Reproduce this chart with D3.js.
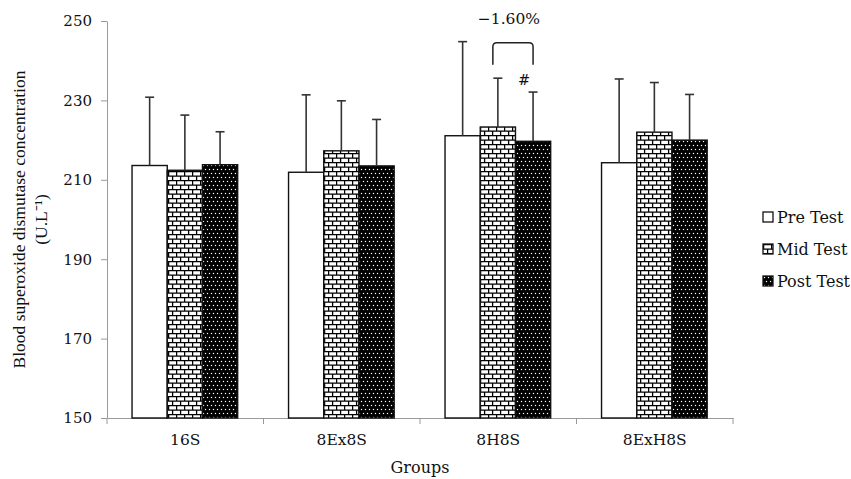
<!DOCTYPE html>
<html>
<head>
<meta charset="utf-8">
<script src="https://cdn.jsdelivr.net/npm/d3@7"></script>
<style>
  body { margin: 0; background: #fff; }
</style>
</head>
<body>
<div id="chart"></div>
<script>
// data
var groups = ["16S", "8Ex8S", "8H8S", "8ExH8S"];
var series = ["Pre Test", "Mid Test", "Post Test"];
var preTest  = [213.6, 211.9, 221.1, 214.3];
var midTest  = [212.4, 217.3, 223.3, 222.0];
var postTest = [213.8, 213.5, 219.7, 220.0];
var preSD  = [17.2, 19.5, 23.7, 21.1];
var midSD  = [13.9, 12.6, 12.3, 12.5];
var postSD = [8.3, 11.7, 12.4, 11.5];
var yTicks = [150, 170, 190, 210, 230, 250];

var W = 851, H = 479;
var margin = {top: 21, right: 118, bottom: 61, left: 107};

var svg = d3.select("#chart")
  .append("svg")
    .attr("width", W)
    .attr("height", H);

// fill patterns
var defs = svg.append("defs");
var brick = defs.append("pattern")
    .attr("id", "brick")
    .attr("patternUnits", "userSpaceOnUse")
    .attr("width", 8)
    .attr("height", 9);
brick.append("rect").attr("width", 8).attr("height", 9).attr("fill", "#fff");
brick.append("path")
    .attr("d", "M0,0.6H8M0,5.1H8M0.6,0V4.5M4.6,4.5V9")
    .attr("stroke", "#000")
    .attr("stroke-width", 1.3)
    .attr("fill", "none");

var dots = defs.append("pattern")
    .attr("id", "dots")
    .attr("patternUnits", "userSpaceOnUse")
    .attr("width", 8)
    .attr("height", 8);
dots.append("rect").attr("width", 8).attr("height", 8).attr("fill", "#000");
[[1.5, 1.5], [5.5, 1.5], [3.5, 5.5], [7.5, 5.5], [-0.5, 5.5]].forEach(function(p) {
  dots.append("rect")
    .attr("x", p[0] - 0.6).attr("y", p[1] - 0.6)
    .attr("width", 1.2).attr("height", 1.2)
    .attr("fill", "#fff");
});

var fills = {"Pre Test": "#fff", "Mid Test": "url(#brick)", "Post Test": "url(#dots)"};

var x = d3.scaleBand()
    .domain(groups)
    .range([margin.left, W - margin.right]);

var x1 = d3.scaleBand()
    .domain(series)
    .range([x.bandwidth() * 0.16, x.bandwidth() * 0.835]);

var y = d3.scaleLinear()
    .domain([150, 250])
    .range([H - margin.bottom, margin.top]);

// table for drawing
var table = [];
groups.forEach(function(g, i) {
  table.push({group: g, key: "Pre Test", value: preTest[i], sd: preSD[i]});
  table.push({group: g, key: "Mid Test", value: midTest[i], sd: midSD[i]});
  table.push({group: g, key: "Post Test", value: postTest[i], sd: postSD[i]});
});

var serif = "'DejaVu Serif', Georgia, serif";
var ink = "#111";

// y axis
var yAxis = svg.append("g")
    .attr("transform", "translate(" + margin.left + ",0)")
    .call(d3.axisLeft(y).tickValues(yTicks).tickSize(6).tickSizeOuter(0).tickPadding(9));
yAxis.select(".domain").attr("stroke", "#9a9a9a");
yAxis.selectAll(".tick line").attr("stroke", "#9a9a9a");
yAxis.selectAll("text")
    .style("font-family", serif)
    .style("font-size", "15px")
    .attr("fill", ink);

// x axis
var xAxis = svg.append("g")
    .attr("transform", "translate(0," + y(150) + ")")
    .call(d3.axisBottom(x).tickSize(0).tickPadding(16));
xAxis.select(".domain").attr("stroke", "#9a9a9a");
xAxis.selectAll("text")
    .style("font-family", serif)
    .style("font-size", "15.5px")
    .attr("fill", ink);
// ticks at the band edges
xAxis.selectAll("line.edge")
  .data(groups.concat(["end"]))
  .enter().append("line")
    .attr("class", "edge")
    .attr("x1", function(d) { return d == "end" ? x.range()[1] : x(d); })
    .attr("x2", function(d) { return d == "end" ? x.range()[1] : x(d); })
    .attr("y1", 0)
    .attr("y2", 6)
    .attr("stroke", "#9a9a9a");

// bars
svg.append("g")
  .selectAll("rect")
  .data(table)
  .enter().append("rect")
    .attr("x", function(d) { return x(d.group) + x1(d.key); })
    .attr("y", function(d) { return y(d.value); })
    .attr("width", x1.bandwidth())
    .attr("height", function(d) { return y(150) - y(d.value); })
    .attr("fill", function(d) { return fills[d.key]; })
    .attr("stroke", "#111")
    .attr("stroke-width", 1.4);

// error bars (upper only)
var err = svg.append("g").attr("stroke", "#333").attr("stroke-width", 1.6);
err.selectAll("line.v")
  .data(table)
  .enter().append("line")
    .attr("class", "v")
    .attr("x1", function(d) { return x(d.group) + x1(d.key) + x1.bandwidth() / 2; })
    .attr("x2", function(d) { return x(d.group) + x1(d.key) + x1.bandwidth() / 2; })
    .attr("y1", function(d) { return y(d.value); })
    .attr("y2", function(d) { return y(d.value + d.sd); });
err.selectAll("line.cap")
  .data(table)
  .enter().append("line")
    .attr("class", "cap")
    .attr("x1", function(d) { return x(d.group) + x1(d.key) + x1.bandwidth() / 2 - 4.5; })
    .attr("x2", function(d) { return x(d.group) + x1(d.key) + x1.bandwidth() / 2 + 4.5; })
    .attr("y1", function(d) { return y(d.value + d.sd); })
    .attr("y2", function(d) { return y(d.value + d.sd); });

// bracket and annotations on 8H8S
var bx0 = x("8H8S") + x1("Mid Test") + x1.bandwidth() / 2 - 5;
var bx1 = x("8H8S") + x1("Post Test") + x1.bandwidth() / 2;
var by0 = y(244.5), by1 = y(239);
svg.append("path")
    .attr("d", "M" + bx0 + "," + by1 + "V" + (by0 + 4) + "Q" + bx0 + "," + by0 + " " + (bx0 + 4) + "," + by0 +
               "H" + (bx1 - 4) + "Q" + bx1 + "," + by0 + " " + bx1 + "," + (by0 + 4) + "V" + by1)
    .attr("fill", "none")
    .attr("stroke", "#222")
    .attr("stroke-width", 1.5);
svg.append("text")
    .attr("x", (bx0 + bx1) / 2 - 4)
    .attr("y", y(249.2))
    .attr("text-anchor", "middle")
    .style("font-family", serif)
    .style("font-size", "15.5px")
    .attr("fill", ink)
    .text("\u22121.60%");
svg.append("text")
    .attr("x", bx1 - 9)
    .attr("y", y(233.8))
    .attr("text-anchor", "middle")
    .style("font-family", serif)
    .style("font-size", "14.5px")
    .attr("fill", ink)
    .text("#");

// axis titles
svg.append("text")
    .attr("x", (x.range()[0] + x.range()[1]) / 2)
    .attr("y", 473)
    .attr("text-anchor", "middle")
    .style("font-family", serif)
    .style("font-size", "16px")
    .attr("fill", ink)
    .text("Groups");

var yTitle = svg.append("text")
    .attr("transform", "translate(25," + y(200) + ") rotate(-90)")
    .attr("text-anchor", "middle")
    .style("font-family", "'Liberation Serif', 'Times New Roman', serif")
    .style("font-size", "17.5px")
    .attr("fill", ink);
yTitle.append("tspan").attr("x", 0).attr("dy", 0).text("Blood superoxide dismutase concentration");
yTitle.append("tspan").attr("x", 0).attr("dy", 22).text("(U.L\u207B\u00B9)");

// legend
var legend = svg.append("g")
  .selectAll("g")
  .data(series)
  .enter().append("g")
    .attr("transform", function(d, i) { return "translate(763," + (212 + i * 32) + ")"; });
legend.append("rect")
    .attr("width", 10)
    .attr("height", 10)
    .attr("fill", function(d) { return fills[d]; })
    .attr("stroke", "#111")
    .attr("stroke-width", 1.3);
legend.append("text")
    .attr("x", 14)
    .attr("y", 10.5)
    .style("font-family", serif)
    .style("font-size", "16px")
    .attr("fill", ink)
    .text(function(d) { return d; });
</script>
</body>
</html>
